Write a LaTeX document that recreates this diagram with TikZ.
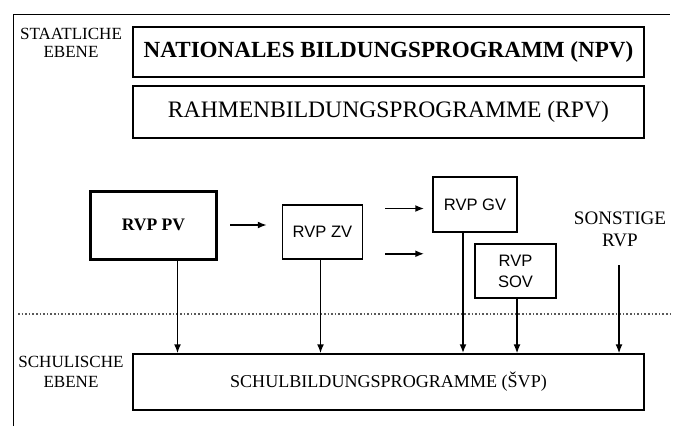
\documentclass[tikz,border=0pt]{standalone}
\usepackage{fontspec}
\setmainfont{Liberation Serif}
\newfontfamily\rvpsans{Liberation Sans}
\usetikzlibrary{arrows.meta}
\begin{document}
\begin{tikzpicture}[x=1pt,y=-1pt,line width=1.5pt,
  every node/.style={align=center,inner sep=0pt},
  box/.style={draw,minimum width=#1},
  arr/.style={-{Latex[length=9pt,width=7pt]}}]
\useasboundingbox (0,0) rectangle (676,426);
% frame
\draw[line width=1pt] (13,426) -- (13,14) -- (670,14);
% state level
\node[font=\fontsize{17bp}{18bp}\selectfont] (staat) at (71,43) {STAATLICHE\\EBENE};
\node[box=511pt,minimum height=50pt,font=\fontsize{23bp}{24bp}\selectfont\bfseries] (npv) at (388.5,52) {NATIONALES BILDUNGSPROGRAMM (NPV)};
\node[box=511pt,minimum height=52pt,font=\fontsize{23.5bp}{24bp}\selectfont] (rpv) at (388.5,112) {RAHMENBILDUNGSPROGRAMME (RPV)};
\node[box=126pt,minimum height=68pt,line width=3pt,font=\fontsize{17.5bp}{18bp}\selectfont\bfseries] (pv) at (153.5,225) {RVP PV};
\node[box=80pt,minimum height=54pt,font=\rvpsans\fontsize{16.5bp}{18bp}\selectfont] (zv) at (322.5,232) {RVP ZV};
\node[box=84pt,minimum height=55pt,font=\rvpsans\fontsize{16.5bp}{18bp}\selectfont] (gv) at (475,204.5) {RVP GV};
\node[box=81pt,minimum height=54pt,font=\rvpsans\fontsize{16.5bp}{21bp}\selectfont] (sov) at (515.5,271) {RVP\\SOV};
\node[font=\fontsize{19bp}{22bp}\selectfont] (sonst) at (620,229) {SONSTIGE\\RVP};
% school level
\node[font=\fontsize{17bp}{20bp}\selectfont] (schul) at (71,372) {SCHULISCHE\\EBENE};
\node[box=511pt,minimum height=56pt,font=\fontsize{18bp}{20bp}\selectfont] (svp) at (388.5,382) {SCHULBILDUNGSPROGRAMME (ŠVP)};
\draw[dotted,line width=1.6pt,gray!70!black] (18,314) -- (670,314);
% arrows
\draw[arr] ([xshift=12pt]pv.east) -- ([xshift=-15pt]zv.west |- pv.east);
\coordinate (zg1) at ([xshift=22pt,yshift=-4pt]zv.east |- gv.west);
\coordinate (zg2) at ([xshift=22pt,yshift=6pt]zv.south east);
\draw[arr,line width=1.8pt] (zg1) -- ([xshift=-8pt]gv.west |- zg1);
\draw[arr,line width=1.8pt] (zg2) -- ([xshift=-8pt]gv.west |- zg2);
\draw[arr] ([xshift=24pt]pv.south) -- ([xshift=24pt]pv.south |- svp.north);
\draw[arr] ([xshift=-2pt]zv.south) -- ([xshift=-2pt]zv.south |- svp.north);
\draw[arr,line width=2pt] ([xshift=-12pt]gv.south) -- ([xshift=-12pt]gv.south |- svp.north);
\draw[arr,line width=1.2pt] ([xshift=1.5pt]sov.south) -- ([xshift=1.5pt]sov.south |- svp.north);
\draw[arr,line width=1.2pt] ([xshift=-1pt,yshift=-18pt]sonst.south) -- ([xshift=-1pt]sonst.south |- svp.north);
\end{tikzpicture}
\end{document}
